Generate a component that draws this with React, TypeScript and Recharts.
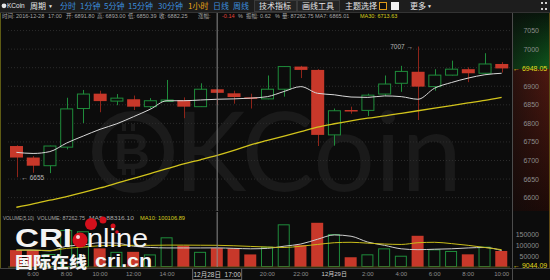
import React from 'react';
import {
    ComposedChart,
    Bar,
    Line,
    XAxis,
    YAxis,
    CartesianGrid,
    ReferenceLine,
    ReferenceDot
} from 'recharts';

// 1小时 K 线, 2016-12-28 05:00 -> 2016-12-29 10:00
const times = [
    '12-28 05:00', '12-28 06:00', '12-28 07:00', '12-28 08:00', '12-28 09:00', '12-28 10:00',
    '12-28 11:00', '12-28 12:00', '12-28 13:00', '12-28 14:00', '12-28 15:00', '12-28 16:00',
    '12-28 17:00', '12-28 18:00', '12-28 19:00', '12-28 20:00', '12-28 21:00', '12-28 22:00',
    '12-28 23:00', '12-29 00:00', '12-29 01:00', '12-29 02:00', '12-29 03:00', '12-29 04:00',
    '12-29 05:00', '12-29 06:00', '12-29 07:00', '12-29 08:00', '12-29 09:00', '12-29 10:00'
];
const axisLabels = [
    '', '6:00', '', '8:00', '', '10:00', '', '12:00', '', '14:00', '', '',
    '12月28日  17:00', '', '', '20:00', '', '22:00', '', '12月29日', '', '2:00', '',
    '4:00', '', '6:00', '', '8:00', '', '10:00'
];
const opens = [6739, 6708, 6686, 6736, 6840, 6880, 6860, 6865, 6845, 6860, 6863, 6845, 6891.8, 6881, 6870,
    6866, 6892, 6953, 6944, 6769, 6836, 6835, 6879, 6908, 6939, 6899, 6930, 6946, 6935, 6960];
const highs = [6741, 6712, 6740, 6869, 6890, 6888, 6879, 6875, 6868, 6917, 6870, 6908, 6893, 6888, 6880,
    6929, 6954, 6955, 6946, 6840, 6845, 6880, 6929, 6955, 7007, 6946, 6969, 6951, 6989, 6965];
const lows = [6655, 6667, 6666, 6730, 6801, 6830, 6849, 6836, 6840, 6859, 6814, 6844, 6850.39, 6853, 6840,
    6865, 6872, 6922, 6739, 6740, 6826, 6820, 6874, 6885, 6809, 6888, 6929, 6911, 6934, 6937];
const closes = [6708, 6686, 6739, 6839, 6879, 6860, 6868, 6845, 6861, 6863, 6845, 6892, 6882.25, 6871, 6866,
    6892, 6953, 6944, 6769, 6834, 6833, 6876, 6906, 6940, 6899, 6930, 6946, 6935, 6960, 6948.05];
const ma7 = [6722, 6719, 6724, 6747, 6766, 6784, 6799, 6818, 6838, 6861, 6861, 6863, 6865.01, 6866, 6868,
    6872, 6886, 6899, 6881, 6877, 6871, 6870, 6874, 6872, 6865, 6895, 6910, 6922, 6931, 6935];
const ma30 = [6574, 6583, 6593, 6603, 6614, 6626, 6639, 6652, 6665, 6678, 6691, 6702, 6713.63, 6727, 6742,
    6754, 6766, 6778, 6790, 6799, 6807, 6814, 6820, 6827, 6834, 6841, 6848, 6855, 6862, 6870];
const volumes = [78000, 78000, 60000, 171000, 165000, 86000, 70000, 70000, 58000, 137000, 98000, 70000,
    87262.75, 86000, 58000, 94000, 197000, 101000, 204000, 152000, 45000, 58500, 86000, 52000, 144000,
    81500, 74000, 58500, 94000, 74000];
const volMa5 = [78000, 78000, 74000, 96000, 102000, 112000, 110000, 96000, 90000, 88000, 88000, 88000,
    88316.1, 86000, 84000, 86000, 96000, 106000, 128000, 148000, 142000, 115000, 100000, 84000, 80000,
    82000, 84000, 88000, 90000, 76000];
const volMa10 = [78000, 78000, 76000, 86000, 92000, 98000, 100000, 100000, 100000, 101000, 101000, 100500,
    100106.89, 98000, 95000, 92000, 90000, 96000, 104000, 112000, 114000, 110000, 106000, 104000, 112000,
    114000, 108000, 100000, 90000, 80000];
const priceTicks = [6600, 6650, 6700, 6750, 6800, 6850, 6900, 6950, 7000, 7050];
const hiddenPriceTicks = [6950]; // covered by the last-price tag
const volumeTicks = [50000, 100000, 150000];

const cursorIndex = 12;
const lastPrice = 6948.05;
const lastVolume = 9044.09;

const BG = '#0c0c0c';
const GREEN = '#1f8c3b';
const RED = '#c8382a';
const RED_WICK = '#8e2419';
const GREY = '#8c8c8c';
const FONT = '"Liberation Sans", "Noto Sans CJK SC", sans-serif';
const CJK = '"Noto Sans CJK SC", sans-serif';

const data = times.map((t, i) => ({
    time: t,
    open: opens[i],
    high: highs[i],
    low: lows[i],
    close: closes[i],
    range: [lows[i], highs[i]],
    ma7: ma7[i],
    ma30: ma30[i],
    volume: volumes[i],
    volMa5: volMa5[i],
    volMa10: volMa10[i]
}));

const Candle = (props: any) => {
    const { x, y, width, height, payload } = props;
    const top = Math.min(y, y + height);
    const span = Math.abs(height);
    const k = span / (payload.high - payload.low);
    const yOf = (v: number) => top + (payload.high - v) * k;
    const up = payload.close >= payload.open;
    const cx = Math.round(x + width / 2) + 0.5;
    const bTop = yOf(Math.max(payload.open, payload.close));
    const bh = Math.max(yOf(Math.min(payload.open, payload.close)) - bTop, 1.5);
    return (
        <g>
            <line x1={cx} x2={cx} y1={top} y2={top + span} stroke={up ? GREEN : RED_WICK} strokeWidth={1} />
            {up
                ? <rect x={x + 0.5} y={bTop} width={width - 1} height={Math.max(bh, 1)} fill={BG} stroke={GREEN} strokeWidth={1} />
                : <rect x={x} y={bTop} width={width} height={bh} fill={RED} />}
        </g>
    );
};

const VolumeBar = (props: any) => {
    const { x, y, width, height, payload } = props;
    const up = payload.close >= payload.open;
    if (up) {
        return <rect x={x + 0.5} y={y + 0.5} width={width - 1} height={height - 1} fill="none" stroke={GREEN} strokeWidth={1} />;
    }
    return <rect x={x} y={y} width={width} height={height} fill={RED} />;
};

const RightTick = (props: any) => {
    const { y, payload } = props;
    if (hiddenPriceTicks.includes(payload.value)) return null;
    return (
        <text x={539} y={y} dy={2.5} textAnchor="end" fontSize={7} fill={GREY} fontFamily={FONT}>
            {payload.value}
        </text>
    );
};

const TimeTick = (props: any) => {
    const { x, y, index } = props;
    const label = axisLabels[index];
    if (!label) return null;
    if (index === cursorIndex) {
        return (
            <g>
                <rect x={x - 24.5} y={y + 1.5} width={49} height={11} fill={BG} stroke="#6a6a6a" />
                <text x={x} y={y + 9.5} textAnchor="middle" fontSize={6.5} fill="#d0d0d0" fontFamily={FONT} xmlSpace="preserve">{label}</text>
            </g>
        );
    }
    return (
        <text x={x} y={y + 9} textAnchor="middle" fontSize={6} fill={label.includes('月') ? '#cfcfcf' : GREY} fontFamily={FONT}>
            {label}
        </text>
    );
};

const SideLabel = (text: string) => (props: any) => {
    const { viewBox } = props;
    return (
        <text x={513} y={viewBox.y + 2.5} fontSize={7} fill="#e0dc1c" fontFamily={FONT}>{'← ' + text}</text>
    );
};

export default function App() {
    return (
        <div style={{ position: 'absolute', left: 0, top: 0, width: 550, height: 280, background: BG, overflow: 'hidden' }}>
            {/* 右侧价格轴背景 */}
            <div style={{ position: 'absolute', left: 512, top: 12, width: 38, height: 57, background: 'linear-gradient(to bottom, #07160b, #0f5a1e)' }} />
            <div style={{ position: 'absolute', left: 512, top: 69, width: 38, height: 142, background: 'linear-gradient(to bottom, #4e1810, #1e0a07)' }} />
            <div style={{ position: 'absolute', left: 512, top: 12, width: 38, height: 199, background: 'linear-gradient(to right, rgba(12,12,12,0.55), rgba(12,12,12,0))' }} />

            {/* 水印 */}
            <svg width={550} height={280} style={{ position: 'absolute', left: 0, top: 0 }}>
                <circle cx={133} cy={152} r={36} fill="none" stroke="#1b1b1b" strokeWidth={10} />
                <text x={132} y={169} textAnchor="middle" fontSize={50} fontWeight={700} fill="#1b1b1b" fontFamily={FONT}>B</text>
                <rect x={122} y={124} width={4} height={7} fill="#1b1b1b" />
                <rect x={131} y={124} width={4} height={7} fill="#1b1b1b" />
                <rect x={122} y={168} width={4} height={7} fill="#1b1b1b" />
                <rect x={131} y={168} width={4} height={7} fill="#1b1b1b" />
                <text x={174} y={191} fontSize={110} fill="#1a1a1a" fontFamily="Lato, sans-serif" textLength={288} lengthAdjust="spacingAndGlyphs">KCoin</text>
            </svg>

            {/* 价格 K 线 */}
            <div style={{ position: 'absolute', left: 0, top: 0 }}>
                <ComposedChart width={550} height={211} data={data} margin={{ top: 12, right: 0, bottom: 0, left: 8 }}>
                    <CartesianGrid vertical={false} stroke="#2c2c2c" strokeDasharray="1 2" />
                    <XAxis dataKey="time" hide height={0} />
                    <YAxis orientation="right" width={40} domain={[6564, 7100]} ticks={priceTicks} interval={0} allowDataOverflow
                        axisLine={false} tickLine={false} tick={<RightTick />} />
                    <Bar dataKey="range" barSize={13} shape={<Candle />} isAnimationActive={false} />
                    <Line type="monotone" dataKey="ma7" stroke="#d8d8d8" strokeWidth={1} dot={false} isAnimationActive={false} />
                    <Line type="monotone" dataKey="ma30" stroke="#d2c41c" strokeWidth={1.3} dot={false} isAnimationActive={false} />
                    <ReferenceLine x={times[cursorIndex]} stroke="#8a8a8a" strokeWidth={1} />
                    <ReferenceLine y={lastPrice} stroke="none" label={SideLabel(lastPrice.toFixed(2))} />
                    <ReferenceDot x={times[24]} y={highs[24]} r={0} stroke="none"
                        label={{ value: highs[24] + ' →', position: 'left', fill: '#b8b8b8', fontSize: 6.5, fontFamily: FONT }} />
                    <ReferenceDot x={times[0]} y={lows[0]} r={0} stroke="none"
                        label={{ value: '← ' + lows[0], position: 'right', fill: '#b8b8b8', fontSize: 6.5, fontFamily: FONT }} />
                </ComposedChart>
            </div>

            {/* 成交量 */}
            <div style={{ position: 'absolute', left: 0, top: 212 }}>
                <ComposedChart width={550} height={68} data={data} margin={{ top: 0, right: 0, bottom: 0, left: 8 }}>
                    <XAxis dataKey="time" height={13} axisLine={false} tickLine={false} tickSize={0} tickMargin={0}
                        interval={0} tick={<TimeTick />} />
                    <YAxis orientation="right" width={40} domain={[0, 253800]} ticks={volumeTicks} interval={0} allowDataOverflow
                        axisLine={false} tickLine={false} tick={<RightTick />} />
                    <Bar dataKey="volume" barSize={12} shape={<VolumeBar />} isAnimationActive={false} />
                    <Line type="monotone" dataKey="volMa5" stroke="#cfcfcf" strokeWidth={1} dot={false} isAnimationActive={false} />
                    <Line type="monotone" dataKey="volMa10" stroke="#c9bd1a" strokeWidth={1} dot={false} isAnimationActive={false} />
                    <ReferenceLine y={0} stroke="#56521a" strokeWidth={1} />
                    <ReferenceLine x={times[cursorIndex]} stroke="#8a8a8a" strokeWidth={1} />
                    <ReferenceLine y={lastVolume} stroke="none" label={SideLabel(lastVolume.toFixed(2))} />
                </ComposedChart>
            </div>

            {/* 工具栏 / 信息 / 边框 / 台标 */}
            <svg width={550} height={280} style={{ position: 'absolute', left: 0, top: 0 }}>
                <rect x={0} y={0} width={550} height={12} fill="#1d1d1d" />
                <line x1={0} x2={550} y1={12.5} y2={12.5} stroke="#333" />
                <circle cx={4} cy={5.8} r={2.4} fill="#e6e6e6" />
                <text x={7} y={8.3} fontSize={6.5} fill="#e6e6e6" fontFamily={FONT}>KCoin</text>
                <text x={30} y={9} fontSize={8} fill="#e6e6e6" fontFamily={CJK}>周期</text>
                <text x={48} y={8} fontSize={5} fill="#e6e6e6" fontFamily={FONT}>▼</text>
                <g fontSize={8} fill="#3c8ede" fontFamily={CJK}>
                    <text x={60} y={9}>分时</text>
                    <text x={80} y={9}>1分钟</text>
                    <text x={104} y={9}>5分钟</text>
                    <text x={128} y={9}>15分钟</text>
                    <text x={158} y={9}>30分钟</text>
                    <text x={188} y={9} fill="#e8a416">1小时</text>
                    <text x={213} y={9}>日线</text>
                    <text x={233} y={9}>周线</text>
                </g>
                <rect x={254.5} y={0.5} width={42} height={11} fill="#242424" stroke="#3a3a3a" />
                <rect x={297.5} y={0.5} width={42} height={11} fill="#242424" stroke="#3a3a3a" />
                <g fontSize={8} fill="#e6e6e6" fontFamily={CJK}>
                    <text x={259} y={9}>技术指标</text>
                    <text x={302} y={9}>画线工具</text>
                    <text x={345} y={9}>主题选择</text>
                    <text x={410} y={9}>更多</text>
                </g>
                <rect x={379.5} y={2.5} width={7} height={7} fill="#111" stroke="#e09a18" />
                <rect x={391} y={2} width={8} height={8} fill="#f2f2f2" />
                <text x={427} y={8} fontSize={5} fill="#e6e6e6" fontFamily={FONT}>▼</text>
                <g fill="#cfcfcf">
                    <rect x={541} y={2} width={2} height={2} /><rect x={545} y={2} width={2} height={2} />
                    <rect x={541} y={8} width={2} height={2} /><rect x={545} y={8} width={2} height={2} />
                </g>

                <g fontSize={5.5} fill="#a8a8a8" fontFamily={FONT}>
                    <text x={2} y={18}>时间: 2016-12-28</text>
                    <text x={48} y={18}>17:00</text>
                    <text x={66} y={18}>开: 6891.80</text>
                    <text x={97} y={18}>高: 6893.00</text>
                    <text x={128} y={18}>低: 6850.39</text>
                    <text x={159} y={18}>收: 6882.25</text>
                    <text x={198} y={18}>涨幅:</text>
                    <text x={222} y={18} fill="#e0423a">-0.14</text>
                    <text x={238} y={18}>%</text>
                    <text x={246} y={18}>振幅: 0.62</text>
                    <text x={275} y={18}>%</text>
                    <text x={282} y={18}>量: 87262.75</text>
                    <text x={315} y={18}>MA7: 6865.01</text>
                    <text x={360} y={18} fill="#d8cf1c">MA30: 6713.63</text>
                </g>

                <g fontSize={5.5} fill="#a8a8a8" fontFamily={FONT}>
                    <text x={3} y={220} textLength={31} lengthAdjust="spacingAndGlyphs">VOLUME(5,10)</text>
                    <text x={37} y={220} textLength={48} lengthAdjust="spacingAndGlyphs">VOLUME: 87262.75</text>
                    <text x={89} y={220} textLength={45} lengthAdjust="spacingAndGlyphs">MA5: 88316.10</text>
                    <text x={140} y={220} textLength={45} lengthAdjust="spacingAndGlyphs" fill="#d8cf1c">MA10: 100106.89</text>
                </g>

                <line x1={0.5} x2={0.5} y1={13} y2={268} stroke="#5e5b14" />
                <line x1={549.5} x2={549.5} y1={13} y2={268} stroke="#5e4a14" />
                <line x1={512.5} x2={512.5} y1={13} y2={280} stroke="#4c4c4c" />
                <line x1={0} x2={550} y1={268.5} y2={268.5} stroke="#444" />

                {/* CRI online 台标 */}
                <text x={15} y={247} fontSize={26} fontWeight={700} fill="#f4f4f4" fontFamily={FONT} textLength={57} lengthAdjust="spacingAndGlyphs">CRI</text>
                <circle cx={80} cy={240} r={7.5} fill="#d4101c" />
                <circle cx={78} cy={237} r={2} fill="#ffffff" opacity={0.8} />
                <circle cx={91} cy={224} r={6} fill="#d4101c" />
                <circle cx={103} cy={220} r={3.5} fill="#d4101c" />
                <circle cx={113} cy={226} r={2.5} fill="#d4101c" />
                <circle cx={117} cy={232} r={1.8} fill="#d4101c" />
                <text x={87} y={247} fontSize={25} fill="#f4f4f4" fontFamily={FONT} textLength={61} lengthAdjust="spacingAndGlyphs">nline</text>
                <text x={15} y={268} fontSize={16} fontWeight={900} fill="#f4f4f4" fontFamily={CJK} textLength={72} lengthAdjust="spacingAndGlyphs">国际在线</text>
                <text x={95} y={267} fontSize={19} fontWeight={700} fill="#f4f4f4" fontFamily={FONT} textLength={57} lengthAdjust="spacingAndGlyphs">cri.cn</text>
            </svg>
        </div>
    );
}
